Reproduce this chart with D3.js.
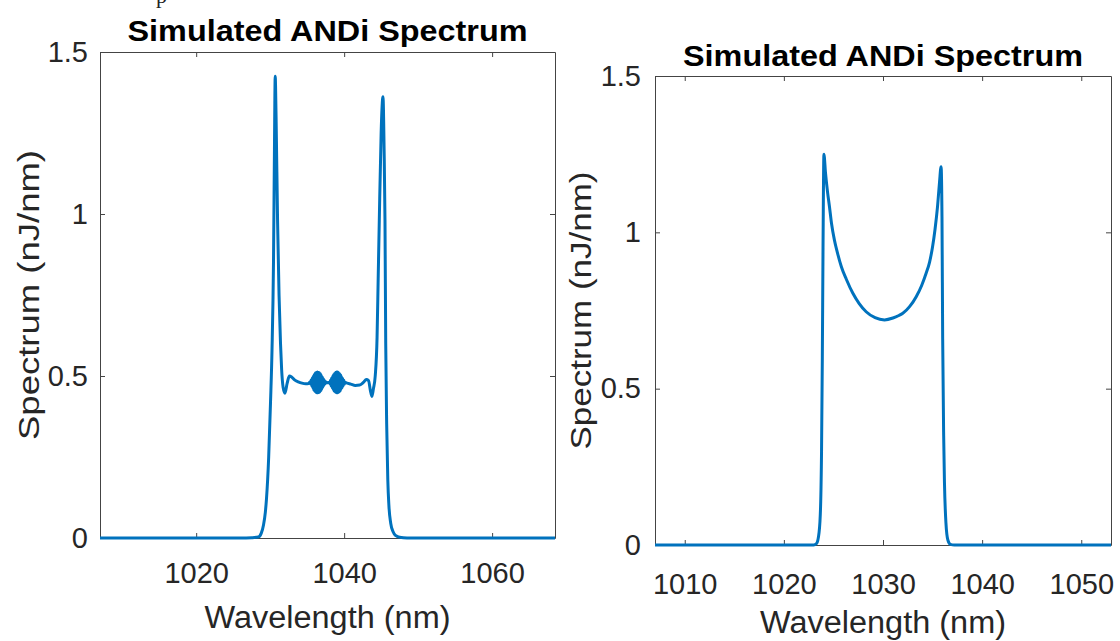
<!DOCTYPE html>
<html>
<head>
<meta charset="utf-8">
<script src="https://cdn.jsdelivr.net/npm/d3@7"></script>
<style>
  body { margin: 0; background: #fff; }
  text { font-family: "Liberation Sans", Arial, sans-serif; fill: #262626; }
</style>
</head>
<body>
<script>
// labels shared by both panels
const chartTitle = "Simulated ANDi Spectrum";
const xLabel = "Wavelength (nm)";
const yLabel = "Spectrum (nJ/nm)";
const yTicks = [0, 0.5, 1, 1.5];

// left panel
const leftXDomain = [1007, 1068.5];
const leftXTicks = [1020, 1040, 1060];
const leftWavelength = [
  1007, 1026, 1027.5, 1028.4, 1028.8, 1029.1, 1029.35, 1029.5, 1029.8, 1030.05,
  1030.25, 1030.45, 1030.58, 1030.68, 1030.8, 1031.0, 1031.2, 1031.4, 1031.55, 1031.75,
  1032.0, 1032.3, 1032.6, 1032.9, 1033.3, 1033.8, 1034.3, 1034.8, 1035.2,
  // first noisy burst
  1035.40, 1035.47, 1035.54, 1035.61, 1035.68, 1035.75, 1035.82, 1035.89, 1035.96, 1036.03,
  1036.10, 1036.17, 1036.24, 1036.31, 1036.38, 1036.45, 1036.52, 1036.59, 1036.66, 1036.73,
  1036.80, 1036.87, 1036.94, 1037.01, 1037.08, 1037.15, 1037.22, 1037.29, 1037.36, 1037.43,
  1037.50, 1037.7, 1037.85,
  // second noisy burst
  1038.00, 1038.07, 1038.14, 1038.21, 1038.28, 1038.35, 1038.42, 1038.49, 1038.56, 1038.63,
  1038.70, 1038.77, 1038.84, 1038.91, 1038.98, 1039.05, 1039.12, 1039.19, 1039.26, 1039.33,
  1039.40, 1039.47, 1039.54, 1039.61, 1039.68, 1039.75, 1039.82, 1039.89, 1039.96, 1040.03,
  1040.10,
  1040.4, 1040.9, 1041.5, 1042.1, 1042.6, 1043.0, 1043.3, 1043.55, 1043.75, 1043.95,
  1044.2, 1044.45, 1044.6, 1044.75, 1045.0, 1045.25, 1045.4, 1045.52, 1045.62, 1045.75,
  1045.9, 1046.05, 1046.3, 1046.6, 1047.0, 1047.5, 1048.5, 1068.5
];
const leftSpectrum = [
  0, 0, 0.001, 0.003, 0.015, 0.04, 0.08, 0.12, 0.25, 0.42,
  0.58, 0.85, 1.2, 1.425, 1.3, 0.98, 0.75, 0.6, 0.52, 0.465,
  0.447, 0.478, 0.5, 0.497, 0.488, 0.482, 0.478, 0.476, 0.477,
  0.482, 0.475, 0.488, 0.469, 0.494, 0.463, 0.500, 0.457, 0.505, 0.453,
  0.509, 0.450, 0.511, 0.448, 0.512, 0.448, 0.511, 0.449, 0.510, 0.451,
  0.507, 0.455, 0.502, 0.460, 0.497, 0.466, 0.491, 0.472, 0.486, 0.476,
  0.482, 0.479, 0.48,
  0.481, 0.476, 0.487, 0.470, 0.493, 0.464, 0.499, 0.458, 0.504, 0.454,
  0.508, 0.451, 0.511, 0.449, 0.512, 0.448, 0.512, 0.449, 0.510, 0.451,
  0.507, 0.454, 0.503, 0.459, 0.498, 0.464, 0.492, 0.470, 0.487, 0.475,
  0.481,
  0.478, 0.475, 0.471, 0.472, 0.48, 0.489, 0.486, 0.455, 0.437, 0.46,
  0.5, 0.62, 0.8, 0.98, 1.25, 1.362, 1.2, 0.98, 0.6, 0.35,
  0.18, 0.1, 0.045, 0.02, 0.007, 0.002, 0, 0
];

// right panel
const rightXDomain = [1007, 1053];
const rightXTicks = [1010, 1020, 1030, 1040, 1050];
const rightWavelength = [
  1007, 1023.0, 1023.3, 1023.55, 1023.7, 1023.8, 1023.88, 1023.95, 1024.04, 1024.2,
  1024.4, 1024.6, 1024.8, 1025.1, 1025.4, 1025.8, 1026.3, 1026.96, 1027.6, 1028.3,
  1029.2, 1030.15, 1031.0, 1031.6, 1032.0, 1032.7, 1033.35, 1033.9, 1034.35, 1034.7,
  1035.0, 1035.25, 1035.5, 1035.7, 1035.86, 1035.95, 1036.02, 1036.12, 1036.2, 1036.35,
  1036.55, 1036.8, 1037.2, 1053
];
const rightSpectrum = [
  0, 0, 0.005, 0.04, 0.12, 0.3, 0.6, 0.95, 1.25, 1.19,
  1.13, 1.082, 1.03, 0.975, 0.935, 0.89, 0.85, 0.805, 0.772, 0.746,
  0.727, 0.72, 0.726, 0.734, 0.741, 0.763, 0.794, 0.83, 0.869, 0.905,
  0.954, 1.01, 1.082, 1.16, 1.21, 1.05, 0.66, 0.35, 0.2, 0.07,
  0.015, 0.002, 0, 0
];

const width = 1120;
const height = 641;
const lineColor = "#0072BD";
const boxColor = "#444";

const svg = d3.select("body").append("svg")
  .attr("width", width)
  .attr("height", height);

// clipped serif glyph at the very top (tail of text above the figure)
svg.append("text")
  .attr("x", 156).attr("y", 3)
  .style("font-family", "'Liberation Serif', serif")
  .style("font-size", "22px")
  .style("fill", "#222")
  .text("p");

const panels = [
  { left: 100, right: 555, top: 52, bottom: 538,
    xDomain: leftXDomain, xTicks: leftXTicks,
    wl: leftWavelength, sp: leftSpectrum,
    titleY: 41, xTickY: 583, xLabelY: 628, yLabelX: 39, yTickPad: 12, yLabelLen: 290 },
  { left: 655, right: 1111, top: 76, bottom: 545,
    xDomain: rightXDomain, xTicks: rightXTicks,
    wl: rightWavelength, sp: rightSpectrum,
    titleY: 66, xTickY: 594, xLabelY: 633, yLabelX: 591, yTickPad: 14, yLabelLen: 278 }
];

panels.forEach(p => {
  const x = d3.scaleLinear().domain(p.xDomain).range([p.left, p.right]);
  const y = d3.scaleLinear().domain([0, 1.5]).range([p.bottom, p.top]);
  const cx = (p.left + p.right) / 2;
  const g = svg.append("g");

  // box with inward ticks on all four sides
  const bottomAxis = g.append("g")
    .attr("transform", `translate(0,${p.bottom})`)
    .call(d3.axisBottom(x).tickValues(p.xTicks).tickSize(-5).tickSizeOuter(0).tickFormat(d3.format("d")));
  bottomAxis.selectAll("text")
    .attr("y", p.xTickY - p.bottom).attr("dy", 0)
    .style("font-size", "29px");

  g.append("g")
    .attr("transform", `translate(0,${p.top})`)
    .call(d3.axisTop(x).tickValues(p.xTicks).tickSize(-5).tickSizeOuter(0).tickFormat(""));

  const leftAxis = g.append("g")
    .attr("transform", `translate(${p.left},0)`)
    .call(d3.axisLeft(y).tickValues(yTicks).tickSize(-5).tickSizeOuter(0).tickPadding(p.yTickPad).tickFormat(d3.format("")));
  leftAxis.selectAll("text").style("font-size", "29px");

  g.append("g")
    .attr("transform", `translate(${p.right},0)`)
    .call(d3.axisRight(y).tickValues(yTicks).tickSize(-5).tickSizeOuter(0).tickFormat(""));

  g.selectAll(".domain").attr("stroke", boxColor);
  g.selectAll(".tick line").attr("stroke", boxColor);
  g.selectAll(".tick text").attr("fill", "#262626").style("font-family", "'Liberation Sans', Arial, sans-serif");

  // spectrum line
  const pts = p.wl.map((w, i) => [w, p.sp[i]]);
  g.append("path")
    .datum(pts)
    .attr("fill", "none")
    .attr("stroke", lineColor)
    .attr("stroke-width", 3)
    .attr("stroke-linejoin", "round")
    .attr("d", d3.line().curve(d3.curveMonotoneX).x(d => x(d[0])).y(d => y(d[1])));

  // title and axis labels
  g.append("text")
    .attr("x", cx).attr("y", p.titleY)
    .attr("text-anchor", "middle")
    .attr("textLength", 400).attr("lengthAdjust", "spacingAndGlyphs")
    .style("font-size", "29px").style("font-weight", "bold").style("fill", "#000")
    .text(chartTitle);

  g.append("text")
    .attr("x", cx).attr("y", p.xLabelY)
    .attr("text-anchor", "middle")
    .attr("textLength", 246).attr("lengthAdjust", "spacingAndGlyphs")
    .style("font-size", "31px")
    .text(xLabel);

  g.append("text")
    .attr("transform", `translate(${p.yLabelX},${(p.top + p.bottom) / 2}) rotate(-90)`)
    .attr("text-anchor", "middle")
    .attr("textLength", p.yLabelLen).attr("lengthAdjust", "spacingAndGlyphs")
    .style("font-size", "30px")
    .text(yLabel);
});
</script>
</body>
</html>
